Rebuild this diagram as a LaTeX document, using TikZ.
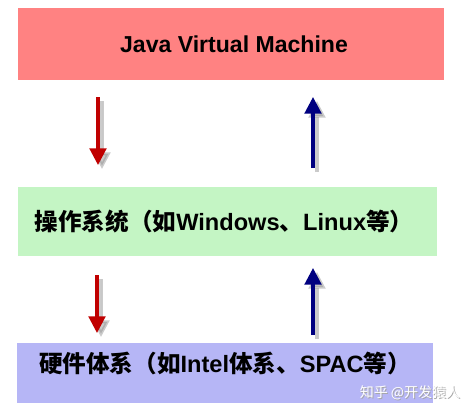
\documentclass[tikz,border=0pt]{standalone}
\usepackage{fontspec}
\setmainfont{Liberation Sans}
\newfontfamily\cjk{Noto Sans CJK SC}
\usetikzlibrary{arrows.meta}
\definecolor{jvmcol}{RGB}{255,130,130}
\definecolor{oscol}{RGB}{196,245,196}
\definecolor{hwcol}{RGB}{182,182,246}
\definecolor{downcol}{RGB}{192,0,0}
\definecolor{upcol}{RGB}{0,0,128}
\tikzset{
  layerbox/.style={inner sep=0pt, font=\bfseries\fontsize{17.3}{20}\selectfont, text=black},
  cjkline/.style={inner sep=0pt, font=\bfseries\fontsize{17.7}{20}\selectfont, text=black},
  flowarrow/.style={line width=2.3pt, -{Triangle[width=12.5pt,length=12.5pt]}},
  arrowshade/.style={line width=2.3pt, -{Triangle[width=12.5pt,length=12.5pt]}, draw=black!45, fill=black!45, opacity=0.45},
  markstyle/.style={font=\cjk\fontsize{10.5}{12}\selectfont, inner sep=0pt},
}
\begin{document}
\begin{tikzpicture}[x=0.75pt,y=-0.75pt]
\useasboundingbox (0,0) rectangle (473,414);
% boxes
\fill[jvmcol] (18,8) rectangle (444,80);
\fill[oscol] (18,187) rectangle (437,256);
\fill[hwcol] (17,343) rectangle (433,403);
\node[layerbox] (jvm) at (234,44) {Java Virtual Machine};
\node[cjkline] (os) at (224,222) {\cjk\bfseries 操作系统（如\rmfamily\bfseries Windows\cjk\bfseries 、\rmfamily\bfseries Linux\cjk\bfseries 等）};
\node[cjkline] (hw) at (225,363) {\cjk\bfseries 硬件体系（如\rmfamily\bfseries Intel\cjk\bfseries 体系、\rmfamily\bfseries SPAC\cjk\bfseries 等）};
% arrow end points
\coordinate (d1s) at (98,97);  \coordinate (d1e) at (98,165);
\coordinate (u1s) at (313,168); \coordinate (u1e) at (313,97);
\coordinate (d2s) at (97,275); \coordinate (d2e) at (97,333);
\coordinate (u2s) at (313,335); \coordinate (u2e) at (313,268);
% shadows
\foreach \a/\b in {d1s/d1e,u1s/u1e,d2s/d2e,u2s/u2e}
  \draw[arrowshade] ([shift={(4,4)}]\a) -- ([shift={(4,4)}]\b);
% arrows
\draw[flowarrow, draw=downcol, fill=downcol] (d1s) -- (d1e);
\draw[flowarrow, draw=upcol, fill=upcol] (u1s) -- (u1e);
\draw[flowarrow, draw=downcol, fill=downcol] (d2s) -- (d2e);
\draw[flowarrow, draw=upcol, fill=upcol] (u2s) -- (u2e);
% watermark
\node[markstyle, text=black!35] (markshade) at (411,394) {知乎 @开发猿人};
\node[markstyle, text=white] (mark) at (410,393) {知乎 @开发猿人};
\end{tikzpicture}
\end{document}
